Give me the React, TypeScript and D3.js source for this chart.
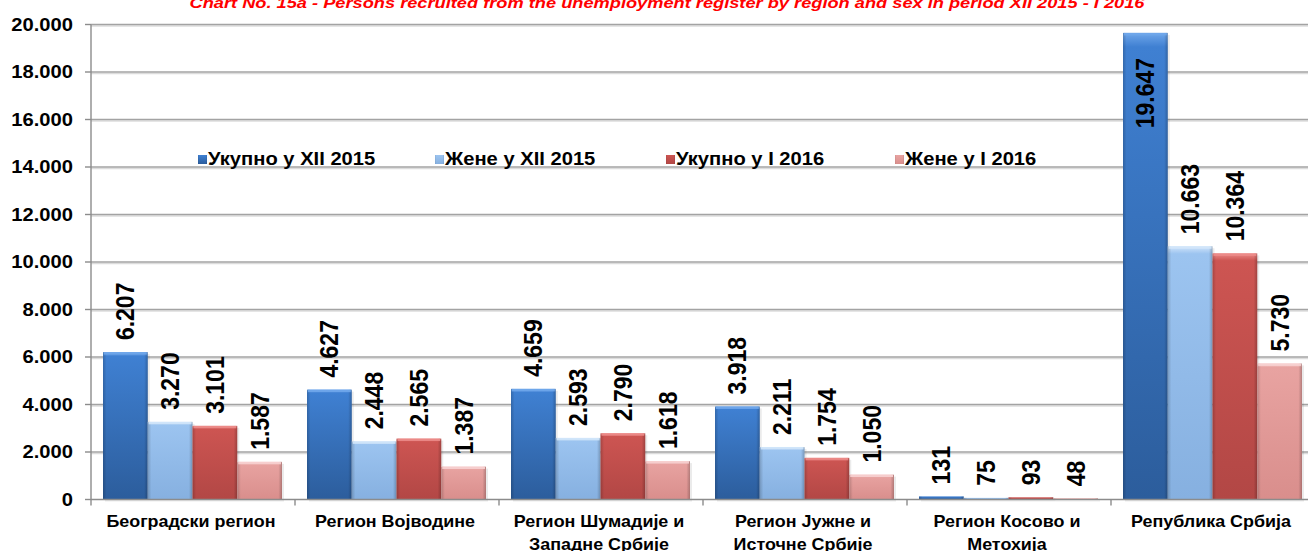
import * as d3 from 'd3';
import React from 'react';

// regions (category axis), split into lines as in the original
const categories = [
  ['Београдски регион'],
  ['Регион Војводине'],
  ['Регион Шумадије и', 'Западне Србије'],
  ['Регион Јужне и', 'Источне Србије'],
  ['Регион Косово и', 'Метохија'],
  ['Република Србија'],
];

const seriesNames = ['Укупно у XII 2015', 'Жене у XII 2015', 'Укупно у I 2016', 'Жене у I 2016'];

const totalDec2015 = [6207, 4627, 4659, 3918, 131, 19647];
const womenDec2015 = [3270, 2448, 2593, 2211, 75, 10663];
const totalJan2016 = [3101, 2565, 2790, 1754, 93, 10364];
const womenJan2016 = [1587, 1387, 1618, 1050, 48, 5730];

const yTicks = [0, 2000, 4000, 6000, 8000, 10000, 12000, 14000, 16000, 18000, 20000];

const title = 'Chart No. 15a -  Persons recruited from the unemployment register by region and sex in period XII 2015 - I 2016';

// colours per series: [top light, body, bottom dark]
const palette = [
  ['#6fa6ea', '#3f80d2', '#2c5d9c'],
  ['#d2e5fa', '#9cc4f0', '#86b0e0'],
  ['#ec8c8a', '#cd5552', '#b24745'],
  ['#f7d2d1', '#e8a3a1', '#d98e8c'],
];

const fmt = (v: number) => d3.format(',')(v).replace(/,/g, '.');

// the source text is a bit wider than the installed fonts
const SX = 1.12;

export default function App() {
  const width = 1308;
  const height = 551;
  const font = 'Arial, "Liberation Sans", sans-serif';

  const values = [totalDec2015, womenDec2015, totalJan2016, womenJan2016];
  const keys = categories.map((c) => c.join(' '));

  const y = d3.scaleLinear().domain([0, 20000]).range([499.5, 24.5]);
  const x0 = d3.scaleBand().domain(keys).range([91, 1315]).padding(0);
  const x1 = d3.scaleBand().domain(seriesNames).range([12, x0.bandwidth() - 13]).padding(0);

  const legendX = [198, 435, 666, 895];

  return (
    <svg width={width} height={height} style={{ position: 'absolute', left: 0, top: 0, background: '#fff' }}
      fontFamily={font}>
      <defs>
        {palette.map((p, i) => (
          <linearGradient key={i} id={`g${i}`} x1="0" y1="0" x2="0" y2="1">
            <stop offset="0" stopColor={p[0]} />
            <stop offset="0.03" stopColor={p[1]} />
            <stop offset="1" stopColor={p[2]} />
          </linearGradient>
        ))}
        {palette.map((p, i) => (
          <linearGradient key={'h' + i} id={`s${i}`} x1="0" y1="0" x2="1" y2="0">
            <stop offset="0" stopColor="#000" stopOpacity="0.18" />
            <stop offset="0.08" stopColor="#000" stopOpacity="0" />
            <stop offset="0.92" stopColor="#000" stopOpacity="0" />
            <stop offset="1" stopColor="#000" stopOpacity="0.22" />
          </linearGradient>
        ))}
      </defs>

      {/* title, cut off at the top as in the source */}
      <text x={667} y={8} textAnchor="middle" fill="#ff0000" fontSize={15} fontWeight="bold" fontStyle="italic"
        textLength={955} lengthAdjust="spacingAndGlyphs">{title}</text>

      {/* grid lines */}
      {yTicks.filter((t) => t > 0).map((t) => (
        <g key={t}>
          <line x1={91} x2={width} y1={y(t) + 1.5} y2={y(t) + 1.5} stroke="#dcdcdc" strokeWidth={1.5} />
          <line x1={91} x2={width} y1={y(t)} y2={y(t)} stroke="#a3a3a3" strokeWidth={1.4} />
        </g>
      ))}

      {/* y axis */}
      <line x1={91} x2={91} y1={y(20000)} y2={y(0)} stroke="#8c8c8c" strokeWidth={1.4} />
      {yTicks.map((t) => (
        <g key={t}>
          <line x1={85} x2={91} y1={y(t)} y2={y(t)} stroke="#8c8c8c" strokeWidth={1.4} />
          <text transform={`translate(73,${y(t)}) scale(${SX},1)`} dy="0.36em" textAnchor="end" fontSize={18}
            fontWeight="bold" fill="#000">
            {fmt(t)}
          </text>
        </g>
      ))}

      {/* bars */}
      {keys.map((k, ci) => (
        <g key={k} transform={`translate(${x0(k)},0)`}>
          {seriesNames.map((s, si) => {
            const v = values[si][ci];
            const bx = x1(s) as number;
            const bw = x1.bandwidth();
            const top = y(v);
            const h = y(0) - top;
            return (
              <g key={s}>
                <rect x={bx + 2} y={top + 2} width={bw} height={h} fill="#000" opacity={0.08} />
                <rect x={bx} y={top} width={bw} height={h} fill={`url(#g${si})`} />
                <rect x={bx} y={top} width={bw} height={h} fill={`url(#s${si})`} />
                {h > 4 && (
                  <rect x={bx + 1} y={top} width={bw - 2} height={2.5} fill={palette[si][0]} opacity={0.9} />
                )}
              </g>
            );
          })}
        </g>
      ))}

      {/* value labels */}
      {keys.map((k, ci) => (
        <g key={'l' + k}>
          {seriesNames.map((s, si) => {
            const v = values[si][ci];
            const cx = (x0(k) as number) + (x1(s) as number) + x1.bandwidth() / 2 + 9;
            const top = y(v);
            const inside = top - 12 - 62 < y(20000);
            const ly = inside ? top + 25 : top - 12;
            return (
              <text key={s} transform={`translate(${cx},${ly}) rotate(-90) scale(1,${SX})`}
                textAnchor={inside ? 'end' : 'start'} fontSize={23} fontWeight="bold" fill="#000">{fmt(v)}</text>
            );
          })}
        </g>
      ))}

      {/* x axis */}
      <line x1={91} x2={width} y1={y(0)} y2={y(0)} stroke="#8c8c8c" strokeWidth={1.4} />
      {keys.map((k) => (
        <line key={'t' + k} x1={x0(k) as number} x2={x0(k) as number} y1={y(0)} y2={y(0) + 6}
          stroke="#8c8c8c" strokeWidth={1.4} />
      ))}
      {categories.map((lines, ci) => {
        const cx = (x0(keys[ci]) as number) + x0.bandwidth() / 2 - 2;
        return (
          <text key={'c' + ci} transform={`translate(${cx},527) scale(${SX},1)`} textAnchor="middle"
            fontSize={16} fontWeight="bold" fill="#000">
            {lines.map((l, li) => (
              <tspan key={li} x={0} dy={li === 0 ? 0 : 23}>{l}</tspan>
            ))}
          </text>
        );
      })}

      {/* legend */}
      {seriesNames.map((s, si) => (
        <g key={'lg' + s}>
          <rect x={legendX[si]} y={155} width={9} height={9} fill={`url(#g${si})`} />
          <rect x={legendX[si]} y={155} width={9} height={9} fill={`url(#s${si})`} />
          <text transform={`translate(${legendX[si] + 10},165) scale(${SX},1)`} fontSize={18} fontWeight="bold"
            fill="#000">{s}</text>
        </g>
      ))}
    </svg>
  );
}
